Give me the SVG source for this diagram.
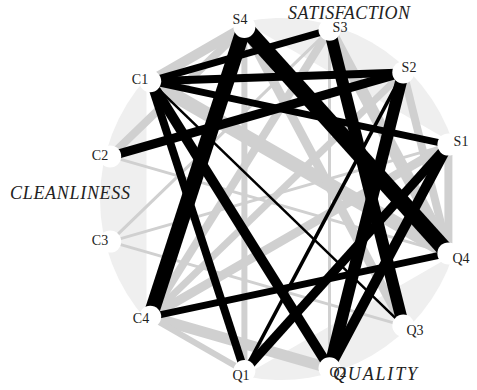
<svg xmlns="http://www.w3.org/2000/svg" width="477" height="390" viewBox="0 0 477 390">
<style>
.g{stroke:#d0d0d0;stroke-linecap:butt;fill:none}
.b{stroke:#000;stroke-linecap:butt;fill:none}
.seg{fill:#efefef}
.nd{fill:#fff}
.lb{font-family:"Liberation Serif","Times New Roman",serif;font-size:14px;fill:#222;text-anchor:middle;dominant-baseline:central}
.grp{font-family:"Liberation Serif","Times New Roman",serif;font-size:18px;font-style:italic;fill:#222;text-anchor:middle;dominant-baseline:central}
</style>
<rect width="477" height="390" fill="#fff"/>
<g id="background">
<path class="seg" d="M243.4 22 A181 181 0 0 1 453.1 143.1 Z"/>
<path class="seg" d="M453.1 254.9 A181 181 0 0 1 243.4 376 Z"/>
<path class="seg" d="M146.5 320.1 A181 181 0 0 1 146.5 77.9 Z"/>
</g>
<g id="connectors">
<line class="g" x1="244.4" y1="26.9" x2="150.2" y2="81.2" stroke-width="10"/>
<line class="g" x1="244.4" y1="26.9" x2="110.2" y2="156.4" stroke-width="8"/>
<line class="g" x1="244.4" y1="26.9" x2="244.4" y2="371.1" stroke-width="6"/>
<line class="g" x1="244.4" y1="26.9" x2="403.3" y2="325.6" stroke-width="9"/>
<line class="g" x1="329.5" y1="29.8" x2="329.5" y2="368.2" stroke-width="3"/>
<line class="g" x1="329.5" y1="29.8" x2="448.4" y2="253.4" stroke-width="12"/>
<line class="g" x1="329.5" y1="29.8" x2="110.2" y2="241.6" stroke-width="3"/>
<line class="g" x1="150.2" y1="81.2" x2="448.4" y2="253.4" stroke-width="14"/>
<line class="g" x1="448.4" y1="144.6" x2="448.4" y2="253.4" stroke-width="8"/>
<line class="g" x1="403.3" y1="72.4" x2="448.4" y2="253.4" stroke-width="8"/>
<line class="g" x1="110.2" y1="156.4" x2="448.4" y2="253.4" stroke-width="3"/>
<line class="g" x1="110.2" y1="241.6" x2="448.4" y2="144.6" stroke-width="3"/>
<line class="g" x1="110.2" y1="241.6" x2="403.3" y2="325.6" stroke-width="3"/>
<line class="g" x1="150.2" y1="316.8" x2="329.5" y2="368.2" stroke-width="11"/>
<line class="g" x1="150.2" y1="316.8" x2="244.4" y2="371.1" stroke-width="6"/>
<line class="g" x1="150.2" y1="316.8" x2="448.4" y2="144.6" stroke-width="9"/>
<line class="g" x1="150.2" y1="316.8" x2="403.3" y2="72.4" stroke-width="7"/>
<line class="g" x1="150.2" y1="316.8" x2="329.5" y2="29.8" stroke-width="8"/>
<line class="b" x1="244.4" y1="26.9" x2="150.2" y2="316.8" stroke-width="15"/>
<line class="b" x1="244.4" y1="26.9" x2="448.4" y2="253.4" stroke-width="16"/>
<line class="b" x1="329.5" y1="29.8" x2="403.3" y2="325.6" stroke-width="12"/>
<line class="b" x1="150.2" y1="81.2" x2="329.5" y2="29.8" stroke-width="7"/>
<line class="b" x1="150.2" y1="81.2" x2="403.3" y2="72.4" stroke-width="8"/>
<line class="b" x1="150.2" y1="81.2" x2="448.4" y2="144.6" stroke-width="7"/>
<line class="b" x1="110.2" y1="156.4" x2="403.3" y2="72.4" stroke-width="9"/>
<line class="b" x1="150.2" y1="81.2" x2="244.4" y2="371.1" stroke-width="8"/>
<line class="b" x1="150.2" y1="81.2" x2="329.5" y2="368.2" stroke-width="10"/>
<line class="b" x1="150.2" y1="81.2" x2="403.3" y2="325.6" stroke-width="2.5"/>
<line class="b" x1="150.2" y1="316.8" x2="448.4" y2="253.4" stroke-width="7"/>
<line class="b" x1="403.3" y1="72.4" x2="329.5" y2="368.2" stroke-width="12"/>
<line class="b" x1="448.4" y1="144.6" x2="329.5" y2="368.2" stroke-width="10"/>
<line class="b" x1="448.4" y1="144.6" x2="244.4" y2="371.1" stroke-width="9"/>
<line class="b" x1="403.3" y1="72.4" x2="244.4" y2="371.1" stroke-width="3.5"/>
</g>
<g id="S4"><circle class="nd" cx="244.4" cy="26.9" r="11"/><text class="lb" x="240" y="19">S4</text></g>
<g id="S3"><circle class="nd" cx="329.5" cy="29.8" r="11"/><text class="lb" x="340" y="27">S3</text></g>
<g id="S2"><circle class="nd" cx="403.3" cy="72.4" r="11"/><text class="lb" x="409" y="67">S2</text></g>
<g id="S1"><circle class="nd" cx="448.4" cy="144.6" r="11"/><text class="lb" x="461" y="141">S1</text></g>
<g id="Q4"><circle class="nd" cx="448.4" cy="253.4" r="11"/><text class="lb" x="461" y="258">Q4</text></g>
<g id="Q3"><circle class="nd" cx="403.3" cy="325.6" r="11"/><text class="lb" x="415" y="330">Q3</text></g>
<g id="Q2"><circle class="nd" cx="329.5" cy="368.2" r="11"/><text class="lb" x="338" y="372">Q2</text></g>
<g id="Q1"><circle class="nd" cx="244.4" cy="371.1" r="11"/><text class="lb" x="241" y="375">Q1</text></g>
<g id="C4"><circle class="nd" cx="150.2" cy="316.8" r="11"/><text class="lb" x="141" y="318">C4</text></g>
<g id="C3"><circle class="nd" cx="110.2" cy="241.6" r="11"/><text class="lb" x="100" y="240">C3</text></g>
<g id="C2"><circle class="nd" cx="110.2" cy="156.4" r="11"/><text class="lb" x="100" y="155">C2</text></g>
<g id="C1"><circle class="nd" cx="150.2" cy="81.2" r="11"/><text class="lb" x="140" y="79">C1</text></g>
<g id="groups">
<text class="grp" x="349" y="13" textLength="122">SATISFACTION</text>
<text class="grp" x="70" y="193" textLength="120">CLEANLINESS</text>
<text class="grp" x="375" y="374" textLength="84">QUALITY</text>
</g>
</svg>
